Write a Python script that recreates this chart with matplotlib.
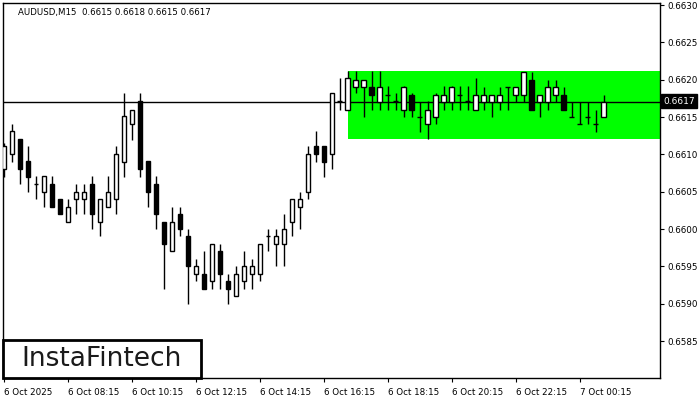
import matplotlib
matplotlib.use("Agg")
import matplotlib.pyplot as plt
from matplotlib.patches import Rectangle

# ---- data (AUDUSD M15) ----
opens = [0.66081, 0.66100, 0.66121, 0.66091, 0.66060, 0.66050, 0.66060, 0.66040, 0.66010, 0.66040,
         0.66040, 0.66060, 0.66010, 0.66030, 0.66040, 0.66090, 0.66140, 0.66171, 0.66091, 0.66060,
         0.66010, 0.65970, 0.66020, 0.65990, 0.65940, 0.65940, 0.65930, 0.65970, 0.65930, 0.65910,
         0.65930, 0.65940, 0.65940, 0.65990, 0.65980, 0.65980, 0.66010, 0.66030, 0.66050, 0.66111,
         0.66111, 0.66100, 0.66171, 0.66160, 0.66190, 0.66190, 0.66190, 0.66170, 0.66180, 0.66171,
         0.66160, 0.66180, 0.66150, 0.66140, 0.66150, 0.66170, 0.66170, 0.66180, 0.66171, 0.66160,
         0.66170, 0.66170, 0.66170, 0.66190, 0.66180, 0.66180, 0.66200, 0.66170, 0.66170, 0.66180,
         0.66180, 0.66150, 0.66140, 0.66150, 0.66140, 0.66150]
highs = [0.66115, 0.66141, 0.66121, 0.66111, 0.66071, 0.66071, 0.66071, 0.66040, 0.66040, 0.66060,
         0.66060, 0.66071, 0.66040, 0.66071, 0.66111, 0.66182, 0.66160, 0.66182, 0.66091, 0.66071,
         0.66010, 0.66030, 0.66030, 0.66000, 0.65960, 0.65970, 0.65980, 0.65980, 0.65940, 0.65950,
         0.65970, 0.65960, 0.65980, 0.66000, 0.66000, 0.66020, 0.66040, 0.66050, 0.66111, 0.66131,
         0.66111, 0.66182, 0.66202, 0.66212, 0.66212, 0.66200, 0.66212, 0.66212, 0.66191, 0.66182,
         0.66191, 0.66182, 0.66170, 0.66171, 0.66182, 0.66191, 0.66191, 0.66191, 0.66191, 0.66202,
         0.66190, 0.66180, 0.66190, 0.66190, 0.66190, 0.66210, 0.66210, 0.66180, 0.66200, 0.66200,
         0.66190, 0.66170, 0.66170, 0.66170, 0.66160, 0.66180]
lows = [0.66070, 0.66090, 0.66060, 0.66050, 0.66040, 0.66030, 0.66030, 0.66020, 0.66010, 0.66020,
        0.66020, 0.66000, 0.65990, 0.66030, 0.66020, 0.66070, 0.66119, 0.66070, 0.66030, 0.66000,
        0.65920, 0.65970, 0.65990, 0.65900, 0.65930, 0.65920, 0.65920, 0.65920, 0.65900, 0.65910,
        0.65920, 0.65920, 0.65930, 0.65970, 0.65950, 0.65950, 0.65990, 0.66000, 0.66040, 0.66090,
        0.66070, 0.66081, 0.66160, 0.66160, 0.66182, 0.66150, 0.66160, 0.66160, 0.66160, 0.66160,
        0.66150, 0.66150, 0.66130, 0.66120, 0.66140, 0.66160, 0.66160, 0.66160, 0.66160, 0.66160,
        0.66160, 0.66150, 0.66160, 0.66160, 0.66170, 0.66170, 0.66160, 0.66150, 0.66160, 0.66170,
        0.66160, 0.66150, 0.66140, 0.66140, 0.66130, 0.66150]
closes = [0.66111, 0.66131, 0.66081, 0.66070, 0.66060, 0.66071, 0.66030, 0.66020, 0.66030, 0.66050,
          0.66050, 0.66020, 0.66040, 0.66050, 0.66100, 0.66151, 0.66160, 0.66081, 0.66050, 0.66020,
          0.65980, 0.66010, 0.66000, 0.65950, 0.65950, 0.65920, 0.65980, 0.65940, 0.65920, 0.65940,
          0.65950, 0.65950, 0.65980, 0.65990, 0.65990, 0.66000, 0.66040, 0.66040, 0.66100, 0.66100,
          0.66090, 0.66182, 0.66171, 0.66202, 0.66200, 0.66200, 0.66180, 0.66190, 0.66180, 0.66171,
          0.66190, 0.66160, 0.66150, 0.66160, 0.66180, 0.66180, 0.66190, 0.66180, 0.66171, 0.66180,
          0.66180, 0.66180, 0.66180, 0.66190, 0.66190, 0.66210, 0.66160, 0.66180, 0.66190, 0.66190,
          0.66160, 0.66150, 0.66140, 0.66150, 0.66140, 0.66170]

x_tick_labels = ["6 Oct 2025", "6 Oct 08:15", "6 Oct 10:15", "6 Oct 12:15", "6 Oct 14:15",
                 "6 Oct 16:15", "6 Oct 18:15", "6 Oct 20:15", "6 Oct 22:15", "7 Oct 00:15"]
x_tick_bars = [0, 8, 16, 24, 32, 40, 48, 56, 64, 72]
y_ticks = [0.6585, 0.6590, 0.6595, 0.6600, 0.6605, 0.6610, 0.6615, 0.6620, 0.6625, 0.6630]

zone_start_bar = 43
zone_low, zone_high = 0.66121, 0.66212
last_price = 0.6617
title_text = "AUDUSD,M15  0.6615 0.6618 0.6615 0.6617"

# ---- figure ----
W, H = 700, 400
fig = plt.figure(figsize=(7, 4), dpi=100)
fig.patch.set_facecolor("white")
ax = fig.add_axes([3 / W, 22 / H, 657 / W, 375 / H])
ax.set_xlim(-0.09, 82.04)
ax.set_ylim(0.658005, 0.663027)

# support/resistance zone
ax.add_patch(Rectangle((zone_start_bar, zone_low), 100, zone_high - zone_low,
                       facecolor="#00FF00", edgecolor="none", zorder=1))

# price line
ax.axhline(last_price, color="black", lw=1.0, zorder=2)

xs = list(range(len(opens)))
ax.vlines(xs, lows, highs, color="black", lw=1.0, zorder=3)
bw = 0.55
for x, o, h, l, c in zip(xs, opens, highs, lows, closes):
    if abs(c - o) < 1e-7:
        ax.hlines(o, x - bw / 2, x + bw / 2, color="black", lw=1.0, zorder=4)
    else:
        fc = "white" if c > o else "black"
        ax.add_patch(Rectangle((x - bw / 2, min(o, c)), bw, abs(c - o),
                               facecolor=fc, edgecolor="black", lw=1.0, zorder=4))

# axes styling
for s in ax.spines.values():
    s.set_color("black")
    s.set_linewidth(1.0)
ax.yaxis.tick_right()
ax.set_yticks(y_ticks)
ax.set_yticklabels([f"{v:.4f}" for v in y_ticks])
ax.set_xticks(x_tick_bars)
ax.set_xticklabels(x_tick_labels, ha="left")
ax.tick_params(axis="both", labelsize=6.3, colors="black", length=3, width=0.8, direction="out", pad=2)
ax.tick_params(axis="x", pad=4)
for lbl in ax.get_xticklabels():
    lbl.set_horizontalalignment("left")

# current price label
fig.text(663 / W, 1 - 101 / H, "0.6617", color="white", fontsize=6.5, va="center", ha="left",
         bbox=dict(boxstyle="square,pad=0.25", facecolor="black", edgecolor="black"))

# title
fig.text(18 / W, 1 - 12 / H, title_text, fontsize=6.2, va="center", ha="left", color="black")

# logo
fig.patches.append(Rectangle((3 / W, 22 / H), 198 / W, 38 / H, transform=fig.transFigure,
                             facecolor="white", edgecolor="black", lw=2, zorder=10))
fig.text(102 / W, 1 - 359 / H, "InstaFintech", fontsize=19, va="center", ha="center",
         color="#1a1a1a", zorder=11)

fig.savefig("out.png", dpi=100)
